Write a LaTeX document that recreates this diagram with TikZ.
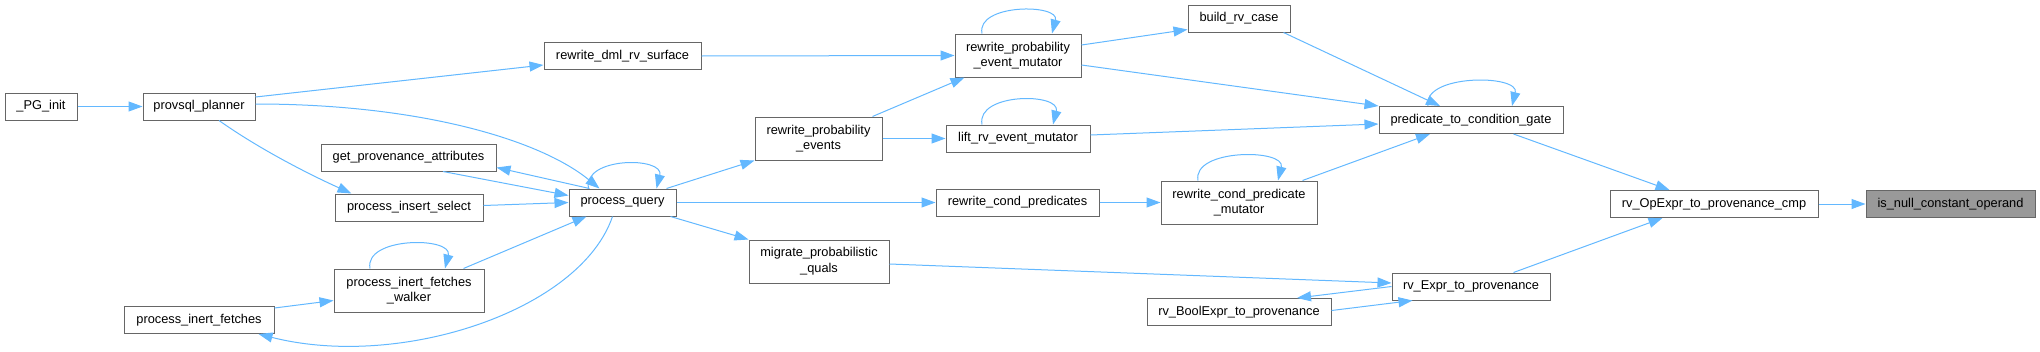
\documentclass[tikz,border=0pt]{standalone}
\usepackage{fontspec}
\setmainfont{Liberation Sans}
\usepackage{xcolor}
\usetikzlibrary{arrows.meta,calc}

\definecolor{edgeblue}{HTML}{63B8FF}
\definecolor{boxgray}{HTML}{666666}

\begin{document}
\begin{tikzpicture}[x=1pt,y=-1pt,
  fn/.style={draw=boxgray, line width=1pt, fill=white, inner sep=0pt,
    minimum height=27pt, align=center, font=\fontsize{12.8}{15.7}\selectfont},
  edge/.style={draw=edgeblue, line width=1pt, -{Triangle[length=14pt,width=10pt]}}]

\useasboundingbox (0,0) rectangle (2040,351);

% functions, left to right
\node[fn, minimum width=72pt] (pginit) at (41,106.5) {\_PG\_init};
\node[fn, minimum width=112pt] (planner) at (199,106.5) {provsql\_planner};
\node[fn, minimum width=175pt] (getprov) at (408.5,157.5) {get\_provenance\_attributes};
\node[fn, minimum width=148pt] (insertsel) at (409,207.5) {process\_insert\_select};
\node[fn, minimum width=150pt, minimum height=43pt] (walker) at (409,290.5) {process\_inert\_fetches\\\_walker};
\node[fn, minimum width=150pt] (inertf) at (199,320) {process\_inert\_fetches};
\node[fn, minimum width=157pt] (dmlrv) at (622.5,56) {rewrite\_dml\_rv\_surface};
\node[fn, minimum width=107pt] (pquery) at (622.5,202.5) {process\_query};
\node[fn, minimum width=127pt, minimum height=43pt] (probev) at (818.5,138.5) {rewrite\_probability\\\_events};
\node[fn, minimum width=140pt, minimum height=43pt] (migrate) at (819,261.5) {migrate\_probabilistic\\\_quals};
\node[fn, minimum width=126pt, minimum height=43pt] (evmut) at (1018,55.5) {rewrite\_probability\\\_event\_mutator};
\node[fn, minimum width=144pt] (liftrv) at (1018,138.5) {lift\_rv\_event\_mutator};
\node[fn, minimum width=163pt] (condpreds) at (1017.5,202.5) {rewrite\_cond\_predicates};
\node[fn, minimum width=102pt] (buildrv) at (1239,18.5) {build\_rv\_case};
\node[fn, minimum width=156pt, minimum height=43pt] (condmut) at (1239,202.5) {rewrite\_cond\_predicate\\\_mutator};
\node[fn, minimum width=184pt] (rvbool) at (1239,312) {rv\_BoolExpr\_to\_provenance};
\node[fn, minimum width=184pt] (predgate) at (1471,120) {predicate\_to\_condition\_gate};
\node[fn, minimum width=158pt] (rvexpr) at (1471,286.5) {rv\_Expr\_to\_provenance};
\node[fn, minimum width=208pt] (opcmp) at (1714,204) {rv\_OpExpr\_to\_provenance\_cmp};
\node[fn, minimum width=169pt, fill=black!40] (isnull) at (1950.5,204) {is\_null\_constant\_operand};

% calls
\draw[edge] (pginit.east) -- (planner.west);
\draw[edge] ($(planner.east)+(0,-9.5)$) -- ($(dmlrv.west)+(0,9)$);
\draw[edge] ($(planner.east)+(0,-2.5)$) .. controls +(164,0) and +(-60,-49) .. ($(pquery.north west)+(31,0)$);
\draw[edge] ($(planner.south)+(20,0)$) .. controls +(41,29) and +(-42,-19) .. ($(insertsel.north west)+(17,0)$);
\draw[edge] (dmlrv.east) -- (evmut.west);
\draw[edge] ($(evmut.east)+(0,-10.5)$) -- ($(buildrv.south west)+(0,-3)$);
\draw[edge] ($(evmut.north)+(-36,0)$) .. controls +(-6,-30) and +(8,-30) .. ($(evmut.north)+(34,0)$);
\draw[edge] ($(evmut.east)+(0,9.5)$) -- (predgate.north west);
\draw[edge] ($(probev.north east)+(-10,0)$) -- ($(evmut.south west)+(10,0)$);
\draw[edge] (probev.east) -- (liftrv.west);
\draw[edge] ($(liftrv.north)+(-36,0)$) .. controls +(-6,-32) and +(8,-32) .. ($(liftrv.north)+(35,0)$);
\draw[edge] ($(liftrv.east)+(0,-3.5)$) -- ($(predgate.west)+(0,4)$);
\draw[edge] ($(buildrv.south east)+(-7,0)$) -- ($(predgate.north)+(-31,0)$);
\draw[edge] ($(predgate.north)+(-43,0)$) .. controls +(-6,-32) and +(8,-32) .. ($(predgate.north)+(41,0)$);
\draw[edge] ($(condmut.north east)+(-15,0)$) -- ($(predgate.south)+(-41,0)$);
\draw[edge] ($(condmut.north)+(-41,0)$) .. controls +(-6,-32) and +(8,-32) .. ($(condmut.north)+(39,0)$);
\draw[edge] (condpreds.east) -- (condmut.west);
\draw[edge] (pquery.east) -- (condpreds.west);
\draw[edge] ($(pquery.north east)+(-10,0)$) -- (probev.south west);
\draw[edge] ($(pquery.south east)+(-6,0)$) -- (migrate.north west);
\draw[edge] ($(pquery.north)+(-34,0)$) .. controls +(-6,-32) and +(8,-32) .. ($(pquery.north)+(34,0)$);
\draw[edge] ($(pquery.north west)+(21,0)$) -- ($(getprov.east)+(0,10)$);
\draw[edge] ($(getprov.south)+(34.5,0)$) -- ($(pquery.west)+(0,-7)$);
\draw[edge] ($(insertsel.east)+(0,-2)$) -- (pquery.west);
\draw[edge] ($(walker.north east)+(-21,0)$) -- ($(pquery.south west)+(18,0)$);
\draw[edge] ($(walker.north)+(-39,0)$) .. controls +(-6,-32) and +(8,-32) .. ($(walker.north)+(36,0)$);
\draw[edge] ($(inertf.north east)+(0,2)$) -- ($(walker.west)+(0,10)$);
\draw[edge] ($(pquery.south)+(-10,0)$) .. controls +(-32,94) and +(142,36) .. ($(inertf.south east)+(-16,0)$);
\draw[edge] ($(migrate.east)+(0,2.5)$) -- ($(rvexpr.west)+(0,-3.5)$);
\draw[edge] (rvexpr.west) -- ($(rvbool.north)+(58,0)$);
\draw[edge] ($(rvbool.east)+(0,-1.5)$) -- ($(rvexpr.south west)+(21,0)$);
\draw[edge] ($(rvexpr.north east)+(-37,0)$) -- ($(opcmp.south west)+(53,0)$);
\draw[edge] ($(predgate.south east)+(-50,0)$) -- ($(opcmp.north west)+(60,0)$);
\draw[edge] (opcmp.east) -- (isnull.west);

\end{tikzpicture}
\end{document}
